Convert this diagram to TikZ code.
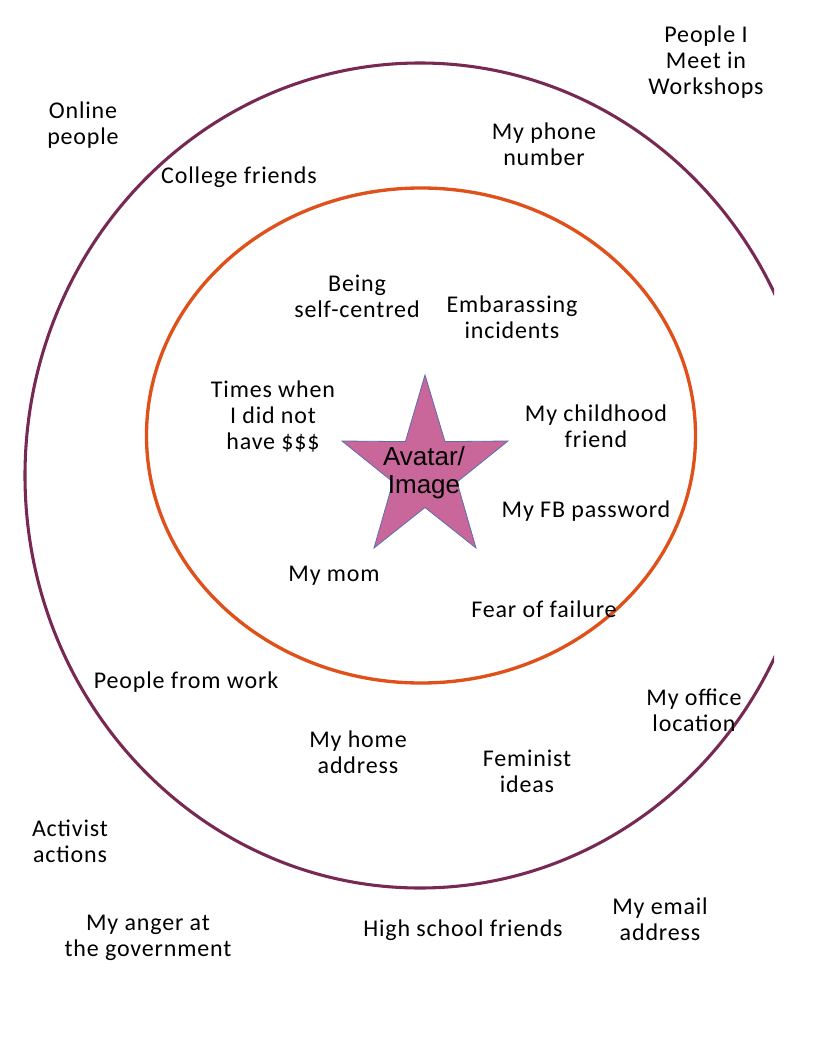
\documentclass[tikz,border=0pt]{standalone}
\usepackage{fontspec}
\setmainfont{Carlito}[LetterSpace=3.5]
\newfontfamily\arialfont{Liberation Sans}
\definecolor{outerc}{HTML}{772953}
\definecolor{innerc}{HTML}{E0501A}
\definecolor{starfill}{HTML}{C9669A}
\definecolor{starline}{HTML}{5B6FB0}
\tikzset{
  lbl/.style={align=center, inner sep=0pt, font=\fontsize{18}{19.5}\selectfont, text=black},
  outerring/.style={draw=outerc, line width=2.3pt},
  innerring/.style={draw=innerc, line width=2.5pt},
}
\begin{document}
\begin{tikzpicture}[x=0.75pt,y=-0.75pt]
\useasboundingbox (0,0) rectangle (816,1056);
\fill[white] (0,0) rectangle (816,1056);
\begin{scope}
  \clip (0,0) rectangle (774,1056);
  \draw[outerring] (420,475.5) ellipse [x radius=395, y radius=412.5];
\end{scope}
\draw[innerring] (421,435.5) ellipse [x radius=274.5, y radius=247.5];
% star
\draw[fill=starfill, draw=starline, line width=0.6pt]
  (425,375) -- (445,441.6) -- (508,441) -- (457,482) -- (476,548)
  -- (425,507.5) -- (374,548) -- (393,482) -- (342,441) -- (405.4,441.6) -- cycle;
\node[align=center, inner sep=0pt, font=\arialfont\fontsize{19.5}{21}\selectfont] (avatar) at (424,473) {Avatar/\\Image};
\node[lbl] (workshops) at (706,62.5) {People I\\Meet in\\Workshops};
\node[lbl] (online) at (83,125) {Online\\people};
\node[lbl] (phone) at (544,144) {My phone\\number};
\node[lbl] (college) at (239,177) {College friends};
\node[lbl] (selfc) at (357,296.5) {Being\\self-centred};
\node[lbl] (embar) at (512,317) {Embarassing\\incidents};
\node[lbl] (times) at (273,416) {Times when\\I did not\\have \$\$\$};
\node[lbl] (child) at (596,426) {My childhood\\friend};
\node[lbl] (fb) at (586,511) {My FB password};
\node[lbl] (mom) at (334,576) {My mom};
\node[lbl] (fear) at (544,609) {Fear of failure};
\node[lbl] (work) at (186,682) {People from work};
\node[lbl] (office) at (694,710) {My office\\location};
\node[lbl] (home) at (358,752) {My home\\address};
\node[lbl] (feminist) at (527,771) {Feminist\\ideas};
\node[lbl] (activist) at (70,841) {Activist\\actions};
\node[lbl] (anger) at (148,938) {My anger at\\the government};
\node[lbl] (highschool) at (463,930) {High school friends};
\node[lbl] (email) at (660,919) {My email\\address};
\end{tikzpicture}
\end{document}
